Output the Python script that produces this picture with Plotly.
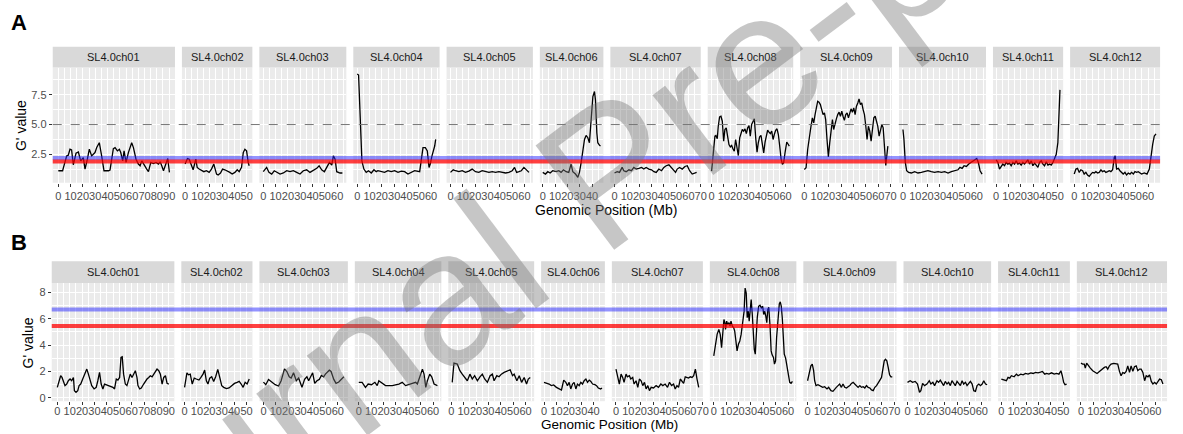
import plotly.graph_objects as go

# ---------------------------------------------------------------
# Chromosome labels (tomato SL4.0 assembly)
# ---------------------------------------------------------------
chrom_labels = ["SL4.0ch01", "SL4.0ch02", "SL4.0ch03", "SL4.0ch04", "SL4.0ch05", "SL4.0ch06",
                "SL4.0ch07", "SL4.0ch08", "SL4.0ch09", "SL4.0ch10", "SL4.0ch11", "SL4.0ch12"]

# ---------------------------------------------------------------
# Panel A: smoothed G' along each chromosome (position in Mb, G')
# ---------------------------------------------------------------
a_ch01_pos = [0, 3.5, 6.8, 8.1, 9.5, 10.8, 12.2, 14.4, 16.3, 18.2, 20.3, 21.7, 23.6, 25.2, 27.1, 29.8, 31.2, 33.3,
              35.2, 37.1, 40.7, 42.0, 44.7, 46.1, 48.0, 49.6, 50.7, 52.3, 53.4, 55.0, 56.9, 58.3, 59.6, 61.0, 63.1,
              65.0, 66.4, 67.8, 69.1, 70.5, 71.8, 73.2, 75.1, 77.2, 79.4, 81.3, 82.7, 84.0, 85.4, 87.3, 88.9, 90.2]
a_ch01_g = [1.11, 1.11, 2.36, 2.42, 2.92, 2.86, 1.61, 2.58, 2.69, 1.94, 2.22, 1.25, 2.08, 2.92, 2.36, 2.64, 3.06, 3.47,
            2.36, 1.11, 1.11, 1.17, 2.97, 3.06, 2.78, 2.92, 2.64, 1.94, 2.78, 1.81, 2.64, 3.19, 3.47, 3.06, 2.08,
            1.67, 1.53, 1.94, 1.67, 1.39, 1.25, 1.03, 1.81, 1.72, 1.81, 1.67, 1.86, 1.53, 1.11, 1.67, 2.14, 0.97]

a_ch02_pos = [0, 1.9, 3.3, 5.1, 6.5, 8.7, 9.8, 11.4, 13.3, 15.2, 17.3, 19.5, 21.4, 23.3, 25.5, 26.8, 28.7, 30.4,
              32.2, 34.1, 36.3, 38.2, 40.4, 42.3, 43.9, 45.8, 47.2, 48.5, 49.9, 51.2, 52.0]
a_ch02_g = [1.67, 2.14, 2.08, 1.53, 1.19, 2.08, 1.39, 1.25, 1.11, 1.03, 1.11, 0.97, 1.25, 1.67, 0.83, 0.75, 0.92, 1.25,
            1.19, 1.11, 0.97, 0.83, 0.97, 1.19, 1.03, 1.39, 2.64, 2.92, 2.78, 1.81, 1.53]

a_ch03_pos = [0, 2.7, 4.6, 6.8, 8.9, 10.8, 13.6, 16.3, 19.0, 21.7, 24.4, 27.1, 29.8, 32.5, 35.2, 37.9, 40.7, 43.4,
              45.3, 47.4, 49.6, 51.5, 53.7, 55.6, 56.9, 58.3, 59.6, 62.3, 64.2]
a_ch03_g = [1.03, 1.39, 0.97, 0.83, 1.11, 0.97, 0.83, 0.92, 1.11, 1.03, 1.11, 0.97, 0.83, 1.11, 1.19, 0.97, 1.11, 1.31,
            1.53, 1.19, 1.03, 1.39, 1.81, 1.58, 2.36, 2.08, 1.03, 0.92, 0.92]

a_ch04_pos = [0, 1.1, 2.4, 3.8, 5.4, 7.3, 9.2, 11.4, 13.6, 15.4, 16.8, 19.5, 22.2, 24.9, 27.6, 30.4, 33.1, 35.8,
              38.5, 41.2, 43.9, 46.6, 50.7, 52.6, 53.4, 55.3, 56.9, 58.3, 59.3, 60.7, 62.9, 63.7]
a_ch04_g = [9.25, 9.17, 5.69, 1.94, 1.25, 0.97, 1.11, 0.92, 1.19, 1.03, 1.11, 1.03, 0.97, 1.11, 1.03, 1.11, 0.97, 1.08,
            1.03, 0.83, 0.97, 1.11, 1.03, 2.36, 3.06, 3.06, 2.78, 1.39, 1.67, 2.36, 3.19, 3.75]

a_ch05_pos = [0, 2.2, 4.1, 6.8, 9.5, 12.2, 14.9, 17.6, 20.3, 23.0, 25.7, 28.5, 31.2, 33.9, 36.6, 39.3, 42.0, 44.7,
              47.4, 50.1, 52.0, 53.7, 55.6, 57.5, 59.6, 61.8, 63.7]
a_ch05_g = [0.97, 1.19, 1.11, 1.03, 1.11, 0.97, 1.08, 1.25, 1.03, 0.97, 1.11, 1.03, 0.97, 1.03, 0.97, 1.03, 0.97, 0.92,
            0.97, 1.11, 1.39, 0.97, 1.03, 1.11, 1.39, 1.19, 0.97]

a_ch06_pos = [0, 2.2, 4.1, 6.0, 8.1, 10.8, 13.0, 14.9, 16.8, 19.0, 21.1, 23.0, 24.4, 26.6, 28.5, 29.8, 31.2, 32.5,
              33.9, 35.2, 36.6, 37.9, 39.3, 40.7, 42.0, 42.8, 43.9, 44.7, 46.1, 46.9]
a_ch06_g = [0.97, 0.83, 1.03, 0.92, 1.11, 1.03, 1.11, 0.97, 1.19, 1.03, 0.97, 1.67, 1.03, 0.83, 0.56, 0.97, 1.81, 2.78,
            3.75, 4.08, 3.89, 3.47, 5.69, 7.36, 7.78, 7.08, 4.31, 3.47, 3.25, 3.19]

a_ch07_pos = [0, 2.2, 4.1, 6.2, 7.6, 9.5, 11.7, 13.8, 15.7, 17.6, 19.8, 22.0, 23.8, 25.7, 27.9, 30.1, 32.0, 33.9,
              36.0, 38.2, 40.1, 42.0, 44.2, 46.3, 48.2, 49.6, 50.9, 52.8, 55.0, 57.2, 59.1, 61.0, 63.1, 65.0, 66.7]
a_ch07_g = [0.92, 1.03, 0.97, 1.39, 1.11, 1.03, 1.19, 1.11, 1.39, 1.25, 1.31, 1.39, 1.25, 1.39, 1.25, 1.19, 1.03, 0.97,
            1.25, 1.11, 1.39, 1.53, 1.61, 1.39, 1.11, 0.97, 1.25, 1.39, 1.25, 1.47, 1.53, 1.11, 0.83, 0.92, 0.97]

a_ch08_pos = [0, 1.4, 2.7, 3.5, 4.6, 5.4, 6.5, 7.6, 8.7, 9.8, 10.8, 11.9, 13.0, 14.1, 15.2, 16.3, 17.3, 18.4, 19.5,
              20.6, 21.7, 22.8, 23.8, 24.9, 26.0, 27.1, 28.2, 29.3, 30.4, 31.4, 32.5, 33.6, 34.7, 35.8, 36.9, 37.9,
              39.0, 40.1, 41.2, 42.3, 43.4, 44.4, 45.5, 46.6, 47.7, 48.8, 49.9, 50.9, 52.0, 53.1, 54.2, 55.3, 56.4,
              57.5, 58.5, 59.6, 61.0, 62.3, 63.1]
a_ch08_g = [1.08, 2.34, 4.02, 4.08, 3.80, 4.86, 5.64, 5.70, 5.28, 3.60, 4.58, 4.72, 4.16, 3.32, 3.12, 3.24, 2.96, 2.76,
            3.74, 3.04, 2.39, 3.88, 4.30, 4.58, 4.44, 4.64, 4.24, 4.72, 4.92, 4.02, 5.00, 5.28, 5.48, 3.88, 2.68, 3.46,
            3.96, 4.08, 3.32, 2.62, 3.52, 4.16, 4.52, 4.36, 4.24, 4.44, 3.74, 4.16, 4.52, 4.64, 4.16, 3.18, 2.11,
            1.64, 1.78, 2.62, 3.52, 3.32, 3.18]

a_ch09_pos = [0, 1.4, 2.7, 4.1, 5.4, 6.5, 7.6, 8.7, 9.8, 10.8, 11.9, 13.0, 14.1, 15.2, 16.3, 17.3, 18.4, 19.5, 20.6,
              21.7, 22.8, 23.8, 24.9, 26.0, 27.1, 28.2, 29.3, 30.4, 31.4, 32.5, 33.6, 34.7, 35.8, 36.9, 37.9, 39.0,
              40.1, 41.2, 42.3, 43.4, 44.4, 45.5, 46.6, 47.7, 48.8, 49.9, 50.9, 52.0, 53.1, 54.2, 55.3, 56.4, 57.5,
              58.5, 59.6, 60.7, 61.8, 62.9, 64.0, 65.0, 66.1, 67.2, 67.8]
a_ch09_g = [1.22, 1.36, 2.90, 3.74, 4.86, 5.56, 5.14, 5.84, 6.54, 6.96, 6.88, 6.68, 6.26, 5.84, 5.98, 5.42, 3.74, 2.28,
            3.46, 4.72, 5.42, 4.58, 5.14, 5.48, 5.84, 6.04, 5.70, 6.12, 5.70, 5.36, 5.84, 5.98, 5.56, 5.92, 6.32,
            6.04, 6.40, 5.84, 6.54, 6.82, 7.16, 6.68, 6.82, 6.26, 5.84, 4.86, 3.74, 4.86, 4.44, 3.60, 4.44, 5.56,
            5.70, 5.28, 4.86, 4.02, 4.64, 5.00, 4.72, 3.46, 1.55, 2.62, 3.18]

a_ch10_pos = [0, 0.8, 1.9, 3.0, 4.6, 6.8, 9.5, 12.2, 14.9, 17.6, 20.3, 23.0, 25.7, 28.5, 31.2, 33.9, 36.6, 39.3,
              42.0, 44.7, 46.3, 48.0, 49.6, 51.5, 53.4, 55.6, 57.7, 59.9, 61.2, 62.6, 64.2]
a_ch10_g = [4.58, 3.75, 1.81, 1.11, 0.97, 0.92, 1.03, 0.92, 0.97, 1.03, 1.11, 1.03, 0.97, 1.03, 0.97, 1.03, 0.92, 1.03,
            1.11, 1.19, 1.39, 1.31, 1.53, 1.47, 1.67, 1.81, 1.94, 2.14, 1.81, 1.11, 0.83]

a_ch11_pos = [0, 1.4, 2.7, 4.1, 5.4, 6.8, 8.1, 9.5, 10.8, 12.2, 13.6, 14.9, 16.3, 17.6, 19.0, 20.3, 21.7, 23.0, 24.4,
              25.7, 27.1, 28.5, 29.8, 31.2, 32.5, 33.9, 35.2, 36.6, 38.0, 39.3, 40.7, 42.0, 43.4, 44.7, 46.1, 47.4,
              48.8, 50.1, 50.9, 51.8]
a_ch11_g = [2.03, 1.81, 1.25, 1.53, 1.67, 1.53, 1.81, 1.67, 1.75, 1.53, 1.81, 1.67, 1.94, 1.67, 1.75, 1.58, 1.81, 1.67,
            1.86, 2.03, 1.67, 1.94, 1.53, 1.75, 1.58, 1.39, 1.81, 1.94, 1.67, 1.53, 1.86, 1.58, 1.67, 1.58, 1.81,
            2.08, 2.50, 3.47, 5.42, 7.92]

a_ch12_pos = [0, 1.4, 2.7, 4.1, 5.4, 6.8, 8.1, 9.5, 10.8, 12.2, 13.6, 14.9, 16.3, 17.6, 19.0, 20.3, 21.7, 23.0, 24.4,
              25.7, 27.1, 28.5, 29.8, 31.2, 32.5, 33.3, 34.4, 35.8, 37.1, 38.5, 39.8, 41.2, 42.5, 43.9, 45.3, 46.6,
              48.0, 49.3, 50.7, 52.0, 53.4, 54.7, 56.9, 59.1, 61.0, 62.3, 63.7, 65.0, 66.4]
a_ch12_g = [0.83, 1.25, 1.31, 0.97, 1.19, 1.11, 0.83, 0.97, 0.75, 0.64, 0.83, 0.97, 0.92, 1.03, 0.92, 0.97, 1.19, 1.03,
            1.11, 0.97, 1.03, 1.11, 1.03, 1.19, 2.22, 2.36, 1.25, 1.31, 1.11, 0.92, 0.83, 0.97, 0.75, 0.92, 0.83,
            0.97, 0.83, 1.03, 0.97, 1.03, 0.92, 0.83, 0.92, 0.83, 1.25, 2.36, 3.33, 4.03, 4.22]

# Panel A thresholds
a_blue_threshold = 2.19
a_red_threshold = 1.88
a_dashed_level = 5.0

# ---------------------------------------------------------------
# Panel B: smoothed G' along each chromosome (position in Mb, G')
# ---------------------------------------------------------------
b_ch01_pos = [0, 1.6, 2.7, 3.8, 4.9, 6.2, 7.6, 8.9, 10.3, 11.6, 13.0, 13.8, 15.1, 16.5, 17.6, 18.9, 20.5, 22.4, 23.8,
              25.1, 26.5, 27.8, 29.7, 31.4, 32.7, 34.1, 35.4, 36.8, 38.1, 39.5, 41.4, 42.7, 44.9, 46.2, 47.6, 48.9,
              50.3, 51.4, 52.4, 53.5, 54.9, 56.2, 57.6, 58.9, 60.3, 61.6, 63.0, 64.3, 65.1, 66.5, 67.8, 69.7, 71.1,
              72.4, 73.8, 75.1, 76.5, 77.8, 79.2, 80.5, 81.9, 83.2, 84.6, 85.9, 87.3, 88.6, 90.0]
b_ch01_g = [0.80, 1.30, 1.68, 1.55, 1.30, 0.93, 1.05, 1.30, 1.43, 1.30, 1.55, 0.55, 0.43, 0.55, 0.93, 1.05, 1.43, 1.80,
            2.18, 1.80, 1.30, 0.93, 0.68, 0.80, 1.30, 1.93, 1.05, 0.68, 1.05, 1.00, 0.93, 0.85, 0.80, 0.68, 1.43,
            1.35, 1.55, 3.06, 3.11, 1.80, 1.05, 0.93, 1.30, 1.80, 1.55, 1.80, 2.06, 1.55, 0.93, 0.68, 0.75, 1.05,
            1.30, 1.43, 1.55, 1.68, 1.60, 1.80, 2.00, 2.18, 2.06, 1.80, 1.05, 1.55, 1.68, 1.10, 1.05]

b_ch02_pos = [0, 1.9, 3.2, 4.6, 6.2, 7.8, 9.5, 11.6, 13.2, 14.9, 16.2, 17.6, 18.9, 20.3, 21.9, 23.5, 25.1, 26.8, 28.4,
              30.0, 31.6, 33.8, 35.9, 38.1, 40.3, 42.4, 44.1, 45.7, 47.3, 48.9, 50.5, 52.2]
b_ch02_g = [0.80, 1.90, 1.75, 1.80, 1.05, 1.50, 1.43, 1.35, 1.55, 1.80, 2.11, 1.30, 1.05, 1.50, 1.60, 1.25, 1.60, 2.16,
            1.55, 0.93, 0.80, 0.70, 0.75, 0.93, 1.10, 1.18, 1.25, 1.05, 0.80, 1.18, 1.05, 1.43]

b_ch03_pos = [0, 1.9, 4.1, 5.4, 7.3, 9.5, 12.2, 14.3, 17.0, 18.9, 20.8, 22.4, 24.3, 26.5, 28.4, 29.7, 31.1, 33.2, 35.1,
              36.5, 38.4, 39.7, 41.4, 43.2, 45.1, 46.8, 48.6, 50.0, 53.2, 54.6, 56.8, 58.6, 60.8, 63.5, 64.9]
b_ch03_g = [1.2, 1.0, 1.4, 1.3, 1.1, 1.0, 0.9, 1.3, 2.2, 2.0, 1.6, 1.5, 1.9, 1.3, 1.5, 1.2, 0.8, 1.4, 1.6,
            1.3, 1.7, 1.9, 1.1, 1.3, 1.4, 1.7, 1.6, 1.8, 2.1, 2.0, 1.4, 1.1, 1.2, 1.5, 1.6]

b_ch04_pos = [0, 2.7, 5.4, 7.6, 10.3, 13.0, 14.9, 16.2, 21.6, 27.0, 32.4, 35.1, 37.8, 41.9, 45.9, 47.3, 51.4, 52.7,
              54.1, 55.4, 57.3, 58.9, 60.8, 63.5]
b_ch04_g = [1.18, 1.18, 0.80, 1.05, 1.00, 1.18, 0.93, 1.30, 0.93, 0.93, 1.05, 1.18, 0.93, 1.05, 1.18, 1.05, 2.18, 1.80,
            0.80, 1.30, 1.80, 1.60, 1.05, 0.93]

b_ch05_pos = [0.8, 2.2, 4.9, 7.0, 8.9, 10.8, 13.0, 15.1, 17.0, 18.9, 21.1, 23.2, 25.1, 27.0, 29.2, 31.4, 33.2, 34.6,
              36.8, 38.6, 40.5, 42.7, 45.4, 47.6, 49.5, 50.8, 53.0, 54.9, 56.8, 58.9, 60.8, 62.2, 63.8]
b_ch05_g = [1.18, 2.63, 2.56, 2.06, 1.80, 1.60, 1.30, 1.80, 1.43, 1.68, 1.30, 1.60, 1.80, 1.43, 1.18, 1.68, 1.80, 1.30,
            1.68, 1.60, 1.80, 1.93, 2.06, 2.13, 1.68, 1.80, 1.30, 1.68, 1.18, 1.55, 1.05, 1.43, 1.55]

b_ch06_pos = [0, 1.9, 4.1, 5.9, 7.8, 10.0, 12.2, 14.1, 15.9, 17.6, 18.9, 20.3, 21.6, 23.0, 24.3, 25.7, 27.0, 28.4,
              29.7, 31.1, 32.4, 33.8, 35.1, 36.5, 37.8, 39.2, 41.1, 42.4, 43.8, 45.7, 46.8]
b_ch06_g = [1.18, 1.13, 1.05, 0.93, 0.98, 0.80, 0.68, 0.60, 1.35, 1.18, 0.93, 1.18, 0.68, 1.05, 1.18, 0.68, 1.05, 0.93,
            1.18, 1.05, 1.30, 1.43, 1.18, 1.35, 1.25, 1.05, 1.00, 0.93, 0.75, 0.68, 0.75]

b_ch07_pos = [0, 1.1, 2.7, 4.1, 5.4, 6.5, 8.1, 9.2, 10.8, 11.9, 13.5, 14.6, 16.2, 17.6, 18.9, 20.3, 21.6, 23.0, 24.3,
              25.7, 27.0, 28.4, 30.3, 32.4, 34.3, 36.2, 37.8, 39.7, 41.6, 43.2, 44.9, 46.5, 47.8, 49.2, 50.5, 51.9,
              53.2, 54.6, 55.9, 57.3, 58.6, 60.0, 61.4, 62.7, 64.1, 65.4, 66.8]
b_ch07_g = [2.18, 1.80, 1.05, 1.80, 1.55, 1.18, 1.80, 1.60, 1.68, 1.43, 1.55, 1.05, 1.30, 0.80, 1.43, 1.30, 0.93, 1.18,
            0.68, 0.93, 0.55, 0.80, 0.75, 0.93, 0.80, 1.05, 0.93, 1.05, 0.80, 1.18, 0.93, 1.05, 0.68, 0.93, 0.80,
            1.43, 1.30, 1.10, 1.60, 1.55, 1.50, 1.60, 1.55, 1.68, 2.18, 1.43, 0.80]

b_ch08_pos = [0, 1.4, 2.7, 4.1, 5.2, 6.3, 7.4, 8.2, 9.0, 9.5, 10.4, 11.2, 12.3, 13.1, 13.9, 15.0, 16.1, 16.9, 17.7,
              18.8, 19.9, 21.0, 22.1, 23.2, 24.5, 25.3, 26.2, 27.0, 27.8, 28.6, 29.4, 30.2, 31.1, 31.9, 32.7, 33.5,
              34.3, 35.1, 36.2, 37.3, 38.4, 39.5, 40.3, 41.1, 42.0, 42.8, 43.6, 44.4, 45.5, 46.3, 47.1, 48.2, 49.0,
              49.9, 50.7, 51.8, 52.9, 53.7, 54.5, 55.3, 56.1, 56.9, 58.0, 59.1, 60.2, 61.3, 62.4, 63.5]
b_ch08_g = [3.18, 3.93, 4.81, 5.19, 4.81, 3.81, 4.81, 5.94, 5.69, 5.19, 5.81, 5.56, 5.69, 5.44, 5.81, 5.44, 5.31, 5.06,
            4.44, 3.56, 4.06, 4.31, 4.81, 5.81, 6.57, 8.32, 7.94, 6.07, 6.57, 5.81, 6.82, 7.44, 6.32, 4.81, 3.68,
            3.31, 4.81, 6.07, 6.94, 7.02, 6.82, 6.94, 6.32, 6.57, 6.19, 5.69, 6.69, 6.87, 5.31, 3.56, 3.26, 3.06,
            2.56, 2.81, 4.56, 6.32, 7.12, 7.27, 6.94, 6.07, 4.06, 3.31, 3.01, 2.31, 1.55, 1.18, 1.10, 1.25]

b_ch09_pos = [0, 1.4, 2.7, 3.8, 4.9, 5.7, 6.8, 8.4, 10.3, 12.2, 13.8, 15.7, 17.0, 18.9, 20.5, 21.9, 23.2, 24.6, 25.9,
              27.3, 28.6, 30.0, 31.4, 32.7, 34.1, 35.4, 36.8, 38.1, 39.5, 40.8, 42.2, 43.5, 44.9, 46.2, 47.6, 48.9,
              50.3, 51.6, 53.0, 54.3, 55.7, 57.0, 58.4, 59.7, 60.8, 61.9, 62.9, 64.0, 65.1, 66.2, 67.3, 68.4]
b_ch09_g = [1.30, 1.80, 2.43, 2.56, 2.06, 1.30, 0.93, 1.00, 0.93, 0.80, 0.85, 0.68, 0.80, 0.55, 0.50, 0.68, 0.80, 0.93,
            1.05, 0.80, 1.05, 0.80, 0.75, 0.85, 0.93, 1.10, 1.18, 1.05, 0.93, 0.80, 0.93, 0.80, 0.85, 0.75, 0.93,
            0.80, 0.75, 0.60, 0.55, 0.80, 0.93, 1.18, 1.35, 1.55, 2.06, 2.81, 2.93, 2.81, 2.31, 1.75, 1.60, 1.60]

b_ch10_pos = [0, 2.2, 4.1, 6.2, 8.1, 9.7, 10.8, 12.2, 13.8, 15.7, 17.6, 18.9, 20.5, 21.9, 23.8, 25.1, 26.5, 27.8,
              29.2, 30.5, 31.9, 33.2, 34.6, 35.9, 37.3, 38.6, 40.0, 41.4, 42.7, 44.1, 45.4, 46.8, 48.1, 49.5, 50.8,
              52.2, 53.5, 54.9, 56.2, 57.6, 58.9, 60.3, 61.6, 63.0, 64.3]
b_ch10_g = [1.18, 1.30, 1.18, 1.25, 1.05, 0.43, 0.55, 1.10, 0.93, 1.05, 1.30, 1.05, 1.18, 0.93, 1.30, 1.18, 1.35, 1.10,
            0.93, 1.25, 1.05, 1.18, 0.93, 1.30, 1.05, 0.93, 1.25, 1.10, 0.93, 1.30, 1.05, 1.18, 0.93, 1.10, 1.25,
            1.05, 0.55, 0.50, 0.93, 1.05, 0.93, 1.05, 1.30, 1.05, 1.00]

b_ch11_pos = [0, 2.2, 4.1, 5.4, 6.8, 8.1, 10.3, 12.2, 13.5, 15.7, 17.6, 19.5, 21.6, 23.8, 25.7, 27.6, 29.7, 31.6,
              33.2, 35.1, 36.5, 38.4, 40.5, 42.7, 44.6, 46.5, 48.1, 49.2, 50.3, 51.4, 52.7]
b_ch11_g = [1.43, 1.35, 1.30, 1.55, 1.50, 1.68, 1.60, 1.80, 1.68, 1.80, 1.75, 1.85, 1.80, 1.90, 1.85, 1.93, 1.90, 1.95,
            2.00, 1.80, 1.85, 1.80, 1.90, 1.80, 1.85, 1.80, 2.06, 1.68, 1.18, 1.00, 1.05]

b_ch12_pos = [0, 1.4, 2.7, 3.5, 4.6, 5.9, 7.6, 9.5, 11.4, 13.0, 14.9, 16.8, 18.9, 20.3, 21.6, 23.0, 24.3, 26.5, 28.4,
              29.7, 31.1, 32.4, 33.8, 35.1, 36.5, 37.8, 39.2, 40.5, 41.9, 43.2, 44.6, 45.9, 47.3, 48.6, 50.0, 51.4,
              52.7, 54.1, 55.4, 56.8, 58.1, 59.5, 60.8, 62.2, 63.5, 64.9, 66.2]
b_ch12_g = [2.63, 2.56, 2.56, 2.26, 2.63, 2.43, 2.26, 2.06, 1.93, 1.85, 2.00, 2.18, 2.31, 2.36, 2.18, 2.43, 2.56, 2.61,
            2.61, 2.56, 2.01, 1.68, 1.93, 1.85, 2.01, 2.43, 1.93, 2.43, 2.01, 2.36, 2.43, 2.06, 2.18, 2.18, 1.93,
            1.30, 1.68, 1.60, 1.75, 1.25, 1.05, 1.18, 1.05, 1.30, 1.43, 1.38, 1.05]

# Panel B thresholds
b_blue_threshold = 6.69
b_red_threshold = 5.44

# ---------------------------------------------------------------
# Figure geometry (pixels of a 1183 x 434 canvas)
# ---------------------------------------------------------------
W, H = 1183, 434
FONT = "Liberation Sans, Arial, Helvetica, sans-serif"
PANEL_BG = "#EBEBEB"
STRIP_BG = "#D9D9D9"
GAP = 7

rows = [
    dict(letter="A", letter_y=23,
         pos=[a_ch01_pos, a_ch02_pos, a_ch03_pos, a_ch04_pos, a_ch05_pos, a_ch06_pos,
              a_ch07_pos, a_ch08_pos, a_ch09_pos, a_ch10_pos, a_ch11_pos, a_ch12_pos],
         g=[a_ch01_g, a_ch02_g, a_ch03_g, a_ch04_g, a_ch05_g, a_ch06_g,
            a_ch07_g, a_ch08_g, a_ch09_g, a_ch10_g, a_ch11_g, a_ch12_g],
         left=53, right=1166, strip_top=47, top=68, bottom=184,
         yrange=[0.1, 9.8], dtick=2.5, minor=1.25, fmt=".1f",
         blue=a_blue_threshold, red=a_red_threshold, dashed=a_dashed_level,
         ytitle_x=21, ytitle_y=126, xtitle_y=211, label_shift=0, title_size=14),
    dict(letter="B", letter_y=244,
         pos=[b_ch01_pos, b_ch02_pos, b_ch03_pos, b_ch04_pos, b_ch05_pos, b_ch06_pos,
              b_ch07_pos, b_ch08_pos, b_ch09_pos, b_ch10_pos, b_ch11_pos, b_ch12_pos],
         g=[b_ch01_g, b_ch02_g, b_ch03_g, b_ch04_g, b_ch05_g, b_ch06_g,
            b_ch07_g, b_ch08_g, b_ch09_g, b_ch10_g, b_ch11_g, b_ch12_g],
         left=52, right=1173, strip_top=263, top=285, bottom=404,
         yrange=[-0.25, 8.7], dtick=2, minor=1, fmt="d",
         blue=b_blue_threshold, red=b_red_threshold, dashed=None,
         ytitle_x=28, ytitle_y=345, xtitle_y=427, label_shift=-3, title_size=13.5),
]

fig = go.Figure()
layout = dict(
    width=W, height=H, margin=dict(l=0, r=0, t=0, b=0),
    paper_bgcolor="white", plot_bgcolor=PANEL_BG,
    showlegend=False, font=dict(family=FONT, size=11, color="#4D4D4D"),
)
shapes, annotations = [], []

k = 0
for row in rows:
    spans = [max(p) - min(p) for p in row["pos"]]
    usable = (row["right"] - row["left"]) - GAP * (len(spans) - 1)
    x_cursor = row["left"]
    first_k = k + 1
    for i, (p, g) in enumerate(zip(row["pos"], row["g"])):
        k += 1
        w = usable * spans[i] / sum(spans)
        x0, x1 = x_cursor, x_cursor + w
        x_cursor = x1 + GAP
        xa = "xaxis" if k == 1 else f"xaxis{k}"
        ya = "yaxis" if k == 1 else f"yaxis{k}"
        xr = "x" if k == 1 else f"x{k}"
        yr = "y" if k == 1 else f"y{k}"
        pad = 0.05 * spans[i]
        layout[xa] = dict(
            domain=[x0 / W, x1 / W], anchor=yr, range=[min(p) - pad, max(p) + pad],
            tick0=0, dtick=10, tickangle=0, ticks="outside", ticklen=3, tickwidth=1, tickcolor="#333333",
            ticklabelstandoff=row["label_shift"],
            tickfont=dict(size=11, color="#4D4D4D", family=FONT),
            showgrid=True, gridcolor="white", gridwidth=1.1, zeroline=False, showline=False,
            minor=dict(tick0=5, dtick=10, showgrid=True, gridcolor="white", gridwidth=0.5, ticks=""),
        )
        first = i == 0
        layout[ya] = dict(
            domain=[1 - row["bottom"] / H, 1 - row["top"] / H], anchor=xr, range=row["yrange"],
            tick0=0, dtick=row["dtick"], tickformat=row["fmt"],
            showticklabels=first, ticks="outside" if first else "", ticklen=3, tickwidth=1,
            tickcolor="#333333", tickfont=dict(size=11, color="#4D4D4D", family=FONT),
            showgrid=True, gridcolor="white", gridwidth=1.1, zeroline=False, showline=False,
            minor=dict(tick0=row["minor"], dtick=row["dtick"], showgrid=True,
                       gridcolor="white", gridwidth=0.5, ticks=""),
        )
        fig.add_trace(go.Scatter(x=p, y=g, mode="lines", xaxis=xr, yaxis=yr,
                                 line=dict(color="black", width=1.3), hoverinfo="skip"))
        # facet strip
        shapes.append(dict(type="rect", xref="paper", yref="paper", layer="below",
                           x0=x0 / W, x1=x1 / W, y0=1 - row["top"] / H, y1=1 - row["strip_top"] / H,
                           fillcolor=STRIP_BG, line=dict(width=0)))
        annotations.append(dict(text=chrom_labels[i], xref="paper", yref="paper",
                                x=(x0 + x1) / 2 / W, y=1 - (row["strip_top"] + row["top"]) / 2 / H,
                                showarrow=False, xanchor="center", yanchor="middle",
                                font=dict(size=11, color="#1A1A1A", family=FONT)))

    yref = "y" if first_k == 1 else f"y{first_k}"
    xl, xrgt = row["left"] / W, row["right"] / W
    if row["dashed"] is not None:
        shapes.append(dict(type="line", xref="paper", yref=yref, x0=xl, x1=xrgt,
                           y0=row["dashed"], y1=row["dashed"],
                           line=dict(color="#777777", width=1, dash="dash")))
    shapes.append(dict(type="line", xref="paper", yref=yref, x0=xl, x1=xrgt,
                       y0=row["blue"], y1=row["blue"],
                       line=dict(color="rgba(40,40,255,0.5)", width=4)))
    shapes.append(dict(type="line", xref="paper", yref=yref, x0=xl, x1=xrgt,
                       y0=row["red"], y1=row["red"],
                       line=dict(color="rgba(255,0,0,0.75)", width=4)))

    annotations.append(dict(text="<b>%s</b>" % row["letter"], xref="paper", yref="paper",
                            x=9 / W, y=1 - row["letter_y"] / H, xanchor="left", yanchor="middle",
                            showarrow=False, font=dict(size=22, color="black", family=FONT)))
    annotations.append(dict(text="G' value", xref="paper", yref="paper",
                            x=row["ytitle_x"] / W, y=1 - row["ytitle_y"] / H, textangle=-90,
                            xanchor="center", yanchor="middle", showarrow=False,
                            font=dict(size=14, color="black", family=FONT)))
    annotations.append(dict(text="Genomic Position (Mb)", xref="paper", yref="paper",
                            x=(row["left"] + row["right"]) / 2 / W, y=1 - row["xtitle_y"] / H,
                            xanchor="center", yanchor="middle", showarrow=False,
                            font=dict(size=row["title_size"], color="black", family=FONT)))

# Journal watermark across the figure
annotations.append(dict(text="Journal Pre-proof", xref="paper", yref="paper",
                        x=612 / W, y=1 - 172 / H, xanchor="center", yanchor="middle",
                        textangle=-37, showarrow=False,
                        font=dict(size=190, color="rgba(120,120,120,0.42)", family=FONT)))

layout["shapes"] = shapes
layout["annotations"] = annotations
fig.update_layout(**layout)
fig.write_html("out.html")
